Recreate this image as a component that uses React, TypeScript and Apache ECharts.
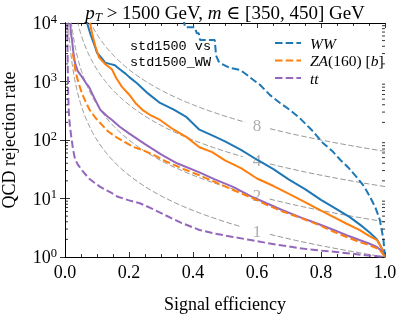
import React, { useEffect, useRef } from "react";
import * as echarts from "echarts";

// ---- data ----
const blueSolidEff = [0.069, 0.08, 0.09, 0.1, 0.112, 0.119, 0.125, 0.14, 0.156, 0.172, 0.19, 0.2, 0.225, 0.26, 0.297, 0.34, 0.38, 0.42, 0.46, 0.5, 0.55, 0.6, 0.65, 0.7, 0.75, 0.8, 0.85, 0.89, 0.93, 0.953, 0.975, 0.99, 1.0];
const blueSolidRej = [10000, 6300, 4500, 3100, 2600, 2350, 2100, 2000, 1900, 1600, 1350, 1200, 930, 620, 430, 330, 245, 150, 120, 95, 68, 46, 32, 21, 14.5, 9.5, 6.5, 4.8, 3.3, 2.6, 2.0, 1.4, 1.0];

const orangeSolidEff = [0.078, 0.085, 0.095, 0.106, 0.125, 0.147, 0.16, 0.178, 0.2, 0.22, 0.244, 0.27, 0.297, 0.34, 0.38, 0.42, 0.46, 0.5, 0.55, 0.6, 0.65, 0.7, 0.75, 0.8, 0.84, 0.88, 0.92, 0.95, 0.975, 0.99, 1.0];
const orangeSolidRej = [10000, 6500, 4000, 2600, 2000, 1600, 1150, 810, 600, 430, 320, 260, 220, 150, 112, 75, 62, 45, 33, 22, 16.5, 12, 8.7, 6.2, 4.8, 3.7, 2.9, 2.3, 1.95, 1.4, 1.0];

const purpleSolidEff = [0.016, 0.019, 0.022, 0.026, 0.031, 0.04, 0.053, 0.065, 0.075, 0.085, 0.095, 0.11, 0.13, 0.147, 0.17, 0.2, 0.25, 0.3, 0.35, 0.42, 0.47, 0.525, 0.58, 0.63, 0.68, 0.734, 0.79, 0.84, 0.88, 0.92, 0.95, 0.975, 0.99, 1.0];
const purpleSolidRej = [10000, 6500, 5100, 3200, 2100, 1500, 1200, 950, 810, 620, 480, 330, 260, 220, 170, 130, 85, 57, 40, 28, 21, 15.8, 11, 8.3, 6.3, 4.8, 3.7, 2.9, 2.35, 1.95, 1.7, 1.48, 1.25, 1.0];

const blueDashedEff = [0.37, 0.375, 0.405, 0.412, 0.418, 0.422, 0.468, 0.472, 0.48, 0.49, 0.516, 0.547, 0.569, 0.59, 0.61, 0.64, 0.672, 0.703, 0.734, 0.77, 0.806, 0.835, 0.86, 0.885, 0.912, 0.935, 0.953, 0.97, 0.984, 0.995, 1.0];
const blueDashedRej = [12000, 8500, 8500, 6700, 6700, 5100, 5100, 2800, 2200, 2000, 1700, 1580, 1290, 1050, 870, 590, 430, 325, 235, 150, 89, 65, 46, 34, 23, 16, 10.7, 7, 4.3, 2, 1.0];

const orangeDashedEff = [0.024, 0.027, 0.031, 0.037, 0.045, 0.053, 0.065, 0.078, 0.095, 0.11, 0.135, 0.16, 0.19, 0.213, 0.24, 0.27, 0.32, 0.37, 0.42, 0.47, 0.525, 0.58, 0.63, 0.68, 0.734, 0.79, 0.84, 0.88, 0.92, 0.95, 0.975, 0.99, 1.0];
const orangeDashedRej = [3000, 2500, 1700, 1200, 850, 630, 440, 320, 240, 195, 140, 112, 90, 76, 68, 58, 42, 32, 25, 19, 14, 10.5, 7.8, 6.0, 4.7, 3.6, 2.7, 2.2, 1.8, 1.6, 1.4, 1.2, 1.0];

const purpleDashedEff = [0.007, 0.008, 0.009, 0.01, 0.012, 0.015, 0.02, 0.025, 0.031, 0.04, 0.056, 0.075, 0.09, 0.11, 0.13, 0.147, 0.165, 0.2, 0.234, 0.27, 0.31, 0.36, 0.42, 0.47, 0.525, 0.58, 0.63, 0.68, 0.734, 0.79, 0.84, 0.89, 0.94, 0.97, 1.0];
const purpleDashedRej = [10000, 3000, 1200, 600, 300, 180, 110, 70, 48, 38, 29, 22, 19, 15.8, 13.8, 12.3, 10.7, 9.3, 8.3, 6.8, 5.3, 3.9, 2.9, 2.5, 2.2, 1.95, 1.74, 1.57, 1.41, 1.3, 1.23, 1.15, 1.07, 1.04, 1.0];

// iso-significance-improvement guide levels (rejection = (k / eff)^2)
const isoLevels = [1, 2, 4, 8];
const isoLabelEff = 0.6;
const isoGap = [0.565, 0.635];

const xTicks = [0, 0.2, 0.4, 0.6, 0.8, 1.0];
const yDecades = [1, 10, 100, 1000, 10000];
const yMinorMultipliers = [2, 3, 4, 5, 6, 7, 8, 9];

const legendEntries = [
  { text: "{i|WW}", color: "#1f77b4" },
  { text: "{i|ZA}{r|(160) [}{i|b}{r|]}", color: "#ff7f0e" },
  { text: "{i|tt}", color: "#9467bd" },
];

const SERIF = "'Liberation Serif', 'DejaVu Serif', serif";
const MONO = "'Liberation Mono', 'DejaVu Sans Mono', monospace";
const BLUE = "#1f77b4";
const ORANGE = "#ff7f0e";
const PURPLE = "#9467bd";
const GRAY = "#8a8a8a";
const DASH = [7.5, 3.2];

function pairs(x: number[], y: number[]) {
  return x.map((v, i) => [v, y[i]]);
}

function isoCurve(k: number) {
  const pts: any[] = [];
  const start = k / Math.sqrt(20000);
  const n = 200;
  let gapPushed = false;
  for (let i = 0; i <= n; i++) {
    const e = start * Math.pow(1 / start, i / n);
    if (e > isoGap[0] && e < isoGap[1]) {
      if (!gapPushed) {
        pts.push([e, "-"]);
        gapPushed = true;
      }
      continue;
    }
    pts.push([e, (k / e) * (k / e)]);
  }
  return pts;
}

const minorTickData: number[][] = [];
yDecades.slice(0, -1).forEach((d) => yMinorMultipliers.forEach((m) => minorTickData.push([0, d * m])));

function lineSeries(name: string, eff: number[], rej: number[], color: string, dashed: boolean, z: number) {
  return {
    type: "line",
    name,
    data: pairs(eff, rej),
    symbol: "none",
    showSymbol: false,
    clip: true,
    silent: true,
    z,
    itemStyle: { color },
    lineStyle: { color, width: 2, type: dashed ? DASH : "solid" },
  };
}

export default function App() {
  const ref = useRef<HTMLDivElement>(null);
  useEffect(() => {
    if (!ref.current) return;
    const chart = echarts.init(ref.current, null, { renderer: "svg" });

    const axisCommon = {
      axisLine: { show: true, lineStyle: { color: "#000", width: 1 } },
      axisTick: { show: true, inside: true, length: 5, lineStyle: { color: "#000", width: 0.8 } },
      splitLine: { show: false },
    };

    const series: any[] = [];
    isoLevels.forEach((k) => {
      series.push({
        type: "line",
        name: "iso" + k,
        data: isoCurve(k),
        symbol: "none",
        showSymbol: false,
        connectNulls: false,
        silent: true,
        z: 1,
        lineStyle: { color: GRAY, width: 0.9, type: [5.5, 2.5] },
      });
    });
    series.push({
      type: "scatter",
      name: "isoLabels",
      silent: true,
      z: 1,
      symbolSize: 0,
      data: isoLevels.map((k) => ({ value: [isoLabelEff, (k / isoLabelEff) * (k / isoLabelEff)], name: String(k) })),
      label: {
        show: true,
        position: "inside",
        formatter: (p: any) => p.name,
        fontFamily: SERIF,
        fontSize: 17,
        color: "#999",
      },
    });
    series.push(lineSeries("blueSolid", blueSolidEff, blueSolidRej, BLUE, false, 3));
    series.push(lineSeries("orangeSolid", orangeSolidEff, orangeSolidRej, ORANGE, false, 3));
    series.push(lineSeries("purpleSolid", purpleSolidEff, purpleSolidRej, PURPLE, false, 3));
    series.push(lineSeries("WW", blueDashedEff, blueDashedRej, BLUE, true, 4));
    series.push(lineSeries("ZA", orangeDashedEff, orangeDashedRej, ORANGE, true, 4));
    series.push(lineSeries("tt", purpleDashedEff, purpleDashedRej, PURPLE, true, 4));
    series.push({
      type: "custom",
      name: "minorY",
      silent: true,
      z: 5,
      data: minorTickData,
      encode: { x: 0, y: 1 },
      renderItem: (params: any, api: any) => {
        const v = api.value(1);
        const a = api.coord([0, v]);
        const b = api.coord([1, v]);
        return {
          type: "group",
          children: [
            { type: "line", shape: { x1: a[0], y1: a[1], x2: a[0] + 3, y2: a[1] }, style: { stroke: "#000", lineWidth: 0.8 } },
            { type: "line", shape: { x1: b[0] - 3, y1: b[1], x2: b[0], y2: b[1] }, style: { stroke: "#000", lineWidth: 0.8 } },
          ],
        };
      },
    });

    const italic = { fontFamily: SERIF, fontStyle: "italic", fontSize: 19, lineHeight: 22, color: "#000" };
    const roman = { fontFamily: SERIF, fontSize: 19, lineHeight: 22, color: "#000" };
    const legRich = {
      i: { fontFamily: SERIF, fontStyle: "italic", fontSize: 15.5, color: "#000" },
      r: { fontFamily: SERIF, fontSize: 15.5, color: "#000" },
    };

    const legendGraphics: any[] = [];
    legendEntries.forEach((e, idx) => {
      const y = 43 + idx * 17.5;
      legendGraphics.push({
        type: "line",
        silent: true,
        shape: { x1: 275, y1: y, x2: 301, y2: y },
        style: { stroke: e.color, lineWidth: 2, lineDash: DASH },
      });
      legendGraphics.push({
        type: "text",
        silent: true,
        x: 310,
        y,
        style: { text: e.text, rich: legRich, verticalAlign: "middle", align: "left" },
      });
    });

    chart.setOption({
      animation: false,
      grid: { left: 65, right: 15, top: 23, bottom: 59, containLabel: false, outerBoundsMode: "none" },
      xAxis: [
        {
          type: "value",
          min: 0,
          max: 1,
          interval: 0.2,
          position: "bottom",
          ...axisCommon,
          minorTick: { show: true, splitNumber: 4, length: 3, lineStyle: { color: "#000", width: 0.8 } },
          axisLabel: {
            show: true,
            margin: 6,
            fontFamily: SERIF,
            fontSize: 18,
            color: "#000",
            formatter: (v: number) => (xTicks.some((t) => Math.abs(t - v) < 1e-9) ? v.toFixed(1) : ""),
          },
          name: "Signal efficiency",
          nameLocation: "middle",
          nameGap: 38,
          nameTextStyle: { fontFamily: SERIF, fontSize: 18, color: "#000" },
        },
        {
          type: "value",
          min: 0,
          max: 1,
          interval: 0.2,
          position: "top",
          ...axisCommon,
          minorTick: { show: true, splitNumber: 4, length: 3, lineStyle: { color: "#000", width: 0.8 } },
          axisLabel: { show: false },
        },
      ],
      yAxis: [
        {
          type: "log",
          logBase: 10,
          min: 1,
          max: 10000,
          position: "left",
          ...axisCommon,
          axisLabel: {
            show: true,
            margin: 8,
            formatter: (v: number) => `{b|10}{s|${Math.round(Math.log10(v))}}`,
            rich: {
              b: { fontFamily: SERIF, fontSize: 18, lineHeight: 22, color: "#000" },
              s: { fontFamily: SERIF, fontSize: 12.5, lineHeight: 14, verticalAlign: "top", color: "#000" },
            },
          },
          name: "QCD rejection rate",
          nameLocation: "middle",
          nameGap: 47,
          nameTextStyle: { fontFamily: SERIF, fontSize: 18, color: "#000" },
        },
        {
          type: "log",
          logBase: 10,
          min: 1,
          max: 10000,
          position: "right",
          ...axisCommon,
          axisLabel: { show: false },
        },
      ],
      graphic: [
        {
          type: "text",
          x: 225,
          y: 12,
          silent: true,
          style: {
            text: "{i|p}{sub|T}{r| > 1500 GeV, }{i|m}{r| ∈ [350, 450] GeV}",
            align: "center",
            verticalAlign: "middle",
            rich: {
              i: italic,
              r: roman,
              sub: { fontFamily: SERIF, fontStyle: "italic", fontSize: 13, lineHeight: 12, verticalAlign: "bottom", color: "#000" },
            },
          },
        },
        {
          type: "text",
          x: 130,
          y: 38,
          silent: true,
          style: {
            text: "std1500 vs\nstd1500_WW",
            fontFamily: MONO,
            fontSize: 13.5,
            lineHeight: 16,
            fill: "#000",
          },
        },
        ...legendGraphics,
      ],
      series,
    });
    return () => chart.dispose();
  }, []);
  return <div ref={ref} style={{ position: "fixed", left: 0, top: 0, width: 400, height: 316 }} />;
}
